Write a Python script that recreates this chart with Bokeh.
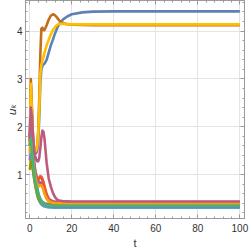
import math
from bokeh.plotting import figure
from bokeh.models import (Range1d, SingleIntervalTicker, LinearAxis,
                          CustomJSTickFormatter, Grid)
from bokeh.embed import file_html
from bokeh.resources import INLINE

# ---- data ----
T = [0, 0.5, 1, 1.5, 2, 2.5, 3, 3.5, 4, 4.5, 5, 5.5, 6, 6.5, 7, 8, 9, 10,
     11, 12, 13, 14, 16, 18, 20, 25, 30, 40, 100]

u1 = [1.6, 2.87, 2.3, 1.75, 1.5, 1.45, 1.45, 1.5, 1.7, 2.2, 2.9, 3.2, 3.27, 3.3, 3.32,
      3.4, 3.55, 3.7, 3.82, 3.95, 4.06, 4.15, 4.25, 4.31, 4.35, 4.39, 4.405, 4.41, 4.41]
u2 = [1.9, 2.0, 1.7, 1.45, 1.25, 1.1, 0.98, 0.88, 0.8, 0.78, 0.8, 0.82, 0.8, 0.72, 0.62,
      0.5, 0.45, 0.42, 0.405, 0.4, 0.395, 0.392, 0.39, 0.39, 0.39, 0.39, 0.39, 0.39, 0.39]
u3 = [1.5, 1.8, 1.55, 1.3, 1.1, 0.95, 0.82, 0.72, 0.62, 0.55, 0.5, 0.46, 0.43, 0.41, 0.395,
      0.38, 0.372, 0.367, 0.364, 0.362, 0.361, 0.36, 0.36, 0.36, 0.36, 0.36, 0.36, 0.36, 0.36]
u4 = [1.6, 1.9, 1.6, 1.35, 1.15, 1.0, 0.9, 0.86, 0.88, 0.94, 0.97, 0.96, 0.92, 0.85, 0.76,
      0.6, 0.5, 0.46, 0.44, 0.43, 0.425, 0.422, 0.42, 0.42, 0.42, 0.42, 0.42, 0.42, 0.42]
u5 = [1.3, 1.6, 1.4, 1.2, 1.0, 0.88, 0.76, 0.66, 0.58, 0.52, 0.48, 0.45, 0.43, 0.415, 0.405,
      0.395, 0.388, 0.384, 0.382, 0.381, 0.38, 0.38, 0.38, 0.38, 0.38, 0.38, 0.38, 0.38, 0.38]
u6 = [1.7, 3.0, 2.4, 1.8, 1.55, 1.5, 1.5, 1.6, 1.9, 2.6, 3.5, 4.05, 4.07, 4.02, 4.02,
      4.12, 4.24, 4.32, 4.35, 4.33, 4.28, 4.22, 4.16, 4.14, 4.13, 4.125, 4.12, 4.12, 4.12]
u7 = [1.4, 1.5, 1.3, 1.1, 0.93, 0.8, 0.68, 0.58, 0.5, 0.45, 0.41, 0.38, 0.36, 0.345, 0.335,
      0.325, 0.318, 0.314, 0.312, 0.311, 0.31, 0.31, 0.31, 0.31, 0.31, 0.31, 0.31, 0.31, 0.31]
u8 = [1.65, 2.9, 2.3, 1.75, 1.5, 1.48, 1.5, 1.6, 1.85, 2.4, 3.1, 3.3, 3.38, 3.45, 3.55,
      3.7, 3.82, 3.93, 4.02, 4.08, 4.13, 4.15, 4.15, 4.145, 4.14, 4.14, 4.14, 4.14, 4.14]
u9 = [1.75, 2.2, 1.9, 1.55, 1.3, 1.12, 1.0, 0.92, 0.86, 0.84, 0.84, 0.82, 0.78, 0.72, 0.65,
      0.55, 0.49, 0.46, 0.445, 0.438, 0.434, 0.432, 0.43, 0.43, 0.43, 0.43, 0.43, 0.43, 0.43]
u10 = [1.1, 1.3, 1.25, 1.1, 0.95, 0.82, 0.7, 0.6, 0.52, 0.47, 0.44, 0.42, 0.405, 0.395, 0.388,
       0.38, 0.376, 0.373, 0.372, 0.371, 0.37, 0.37, 0.37, 0.37, 0.37, 0.37, 0.37, 0.37, 0.37]
u11 = [1.7, 2.0, 1.7, 1.4, 1.2, 1.05, 0.95, 0.9, 0.9, 0.93, 0.95, 0.93, 0.88, 0.8, 0.7,
       0.56, 0.48, 0.45, 0.43, 0.42, 0.415, 0.412, 0.41, 0.41, 0.41, 0.41, 0.41, 0.41, 0.41]
u12 = [1.8, 2.1, 1.8, 1.5, 1.2, 1.0, 0.85, 0.72, 0.62, 0.54, 0.48, 0.43, 0.4, 0.38, 0.365,
       0.35, 0.342, 0.337, 0.334, 0.332, 0.331, 0.33, 0.33, 0.33, 0.33, 0.33, 0.33, 0.33, 0.33]
u13 = [1.45, 1.7, 1.5, 1.3, 1.12, 0.98, 0.87, 0.8, 0.76, 0.76, 0.78, 0.78, 0.74, 0.68, 0.6,
       0.5, 0.45, 0.425, 0.412, 0.406, 0.403, 0.401, 0.4, 0.4, 0.4, 0.4, 0.4, 0.4, 0.4]
u14 = [1.8, 2.4, 2.2, 1.85, 1.55, 1.4, 1.32, 1.28, 1.28, 1.35, 1.55, 1.78, 1.92, 1.9, 1.75,
       1.25, 0.92, 0.75, 0.62, 0.53, 0.48, 0.46, 0.445, 0.442, 0.44, 0.44, 0.44, 0.44, 0.44]
u15 = [1.6, 1.75, 1.5, 1.25, 1.05, 0.9, 0.78, 0.68, 0.6, 0.53, 0.48, 0.44, 0.41, 0.39, 0.375,
       0.362, 0.356, 0.353, 0.351, 0.35, 0.35, 0.35, 0.35, 0.35, 0.35, 0.35, 0.35, 0.35, 0.35]

series = [u1, u2, u3, u4, u5, u6, u7, u8, u9, u10, u11, u12, u13, u14, u15]
colors = ["#5E81B5", "#E19C24", "#8FB032", "#EB6235", "#8778B3", "#C56E1A", "#5D9EC7",
          "#FFBF00", "#A5609D", "#929600", "#E95536", "#6685D9", "#F89F13", "#BC5B80",
          "#47B66D"]

x_ticks_interval = 20
y_ticks_interval = 1
x_label = "t"
y_label = "u\u2096"

# ---- figure ----
FRAME = "#9a9a9a"
p = figure(width=249, height=251, output_backend="svg", toolbar_location=None,
           x_range=Range1d(-2.05, 102.2), y_range=Range1d(0.085, 4.638),
           min_border_left=25, min_border_right=5, min_border_top=0,
           min_border_bottom=32, x_axis_location=None, y_axis_location=None)
p.background_fill_color = "white"
p.border_fill_color = "white"
p.outline_line_color = FRAME

xt = SingleIntervalTicker(interval=x_ticks_interval, num_minor_ticks=5)
yt = SingleIntervalTicker(interval=y_ticks_interval, num_minor_ticks=5)

def style(ax, labels=True):
    ax.axis_line_color = FRAME
    ax.major_tick_line_color = FRAME
    ax.minor_tick_line_color = FRAME
    ax.major_tick_in = 4
    ax.major_tick_out = 0
    ax.minor_tick_in = 2
    ax.minor_tick_out = 0
    ax.major_label_text_font = "Liberation Sans"
    ax.major_label_text_font_size = "10px"
    ax.major_label_text_color = "#333333"
    if not labels:
        ax.formatter = CustomJSTickFormatter(code="return ''")
        ax.major_label_standoff = 0

bx = LinearAxis(ticker=xt, axis_label=x_label)
style(bx)
bx.major_label_standoff = 5
bx.axis_label_standoff = 2
bx.axis_label_text_font = "Liberation Sans"
bx.axis_label_text_font_size = "11px"
bx.axis_label_text_font_style = "normal"
bx.axis_label_text_color = "#333333"
p.add_layout(bx, "below")

ly = LinearAxis(ticker=yt, axis_label=y_label)
style(ly)
ly.major_label_standoff = 3
ly.axis_label_standoff = -5
ly.axis_label_text_font = "DejaVu Sans"
ly.axis_label_text_font_size = "11px"
ly.axis_label_text_font_style = "italic"
ly.axis_label_text_color = "#333333"
p.add_layout(ly, "left")

tx = LinearAxis(ticker=xt)
style(tx, labels=False)
p.add_layout(tx, "above")
ry = LinearAxis(ticker=yt)
style(ry, labels=False)
p.add_layout(ry, "right")

p.xgrid.visible = False
p.ygrid.visible = False
p.add_layout(Grid(dimension=0, ticker=xt, grid_line_color="#e3e3e3", grid_line_width=1))
p.add_layout(Grid(dimension=1, ticker=yt, grid_line_color="#e3e3e3", grid_line_width=1))

for vals, c in zip(series, colors):
    p.line(T, vals, line_color=c, line_width=2.6, line_join="round")

open("out.html", "w").write(file_html(p, INLINE))
